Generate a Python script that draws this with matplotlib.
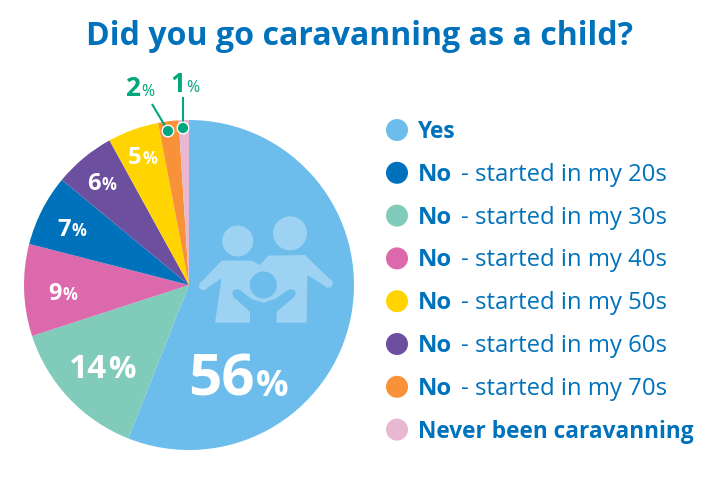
import matplotlib
matplotlib.use("Agg")
import matplotlib.pyplot as plt
from matplotlib.patches import Circle, Polygon

title = "Did you go caravanning as a child?"
slice_labels = ["Yes", "No - started in my 30s", "No - started in my 40s", "No - started in my 20s",
                "No - started in my 60s", "No - started in my 50s", "No - started in my 70s",
                "Never been caravanning"]
slice_values = [56, 14, 9, 7, 6, 5, 2, 1]
slice_colors = ["#6cbdec", "#80cbb9", "#dc69ac", "#0072bc", "#6d4fa0", "#ffd400", "#f79239", "#e8b8d2"]
legend_order = [0, 3, 1, 2, 5, 4, 6, 7]

BLUE = "#0072bc"
GREEN = "#00a67e"
LIGHT = "#9dd2f3"
FONT = "Open Sans"

fig = plt.figure(figsize=(7.2, 4.8), dpi=100, facecolor="white")

# pie: centre (189, 285), radius 165 px
axp = fig.add_axes([(189 - 165) / 720, 1 - (285 + 165) / 480, 330 / 720, 330 / 480])
axp.pie(slice_values, colors=slice_colors, startangle=90, counterclock=False, radius=1,
        wedgeprops=dict(linewidth=0))
axp.set_xlim(-1, 1)
axp.set_ylim(-1, 1)
axp.set_axis_off()

# overlay in pixel coordinates
ax = fig.add_axes([0, 0, 1, 1], zorder=5)
ax.set_xlim(0, 720)
ax.set_ylim(480, 0)
ax.set_axis_off()
ax.patch.set_alpha(0)
rend = fig.canvas.get_renderer()


def runs(x, y, parts):
    """Lay out (text, size, weight, colour) runs on one baseline."""
    cur = x
    for s, size, weight, col in parts:
        t = ax.text(cur, y, s, fontsize=size, fontweight=weight, color=col, family=FONT,
                    va="baseline", ha="left", zorder=10)
        cur += t.get_window_extent(rend).width + 1


# title
ax.text(360, 45, title, fontsize=23.1, fontweight="bold", color=BLUE, family=FONT,
        ha="center", va="baseline")


def z(px, py):
    return 180 + px / 3, 200 + py / 3


# family icon
ax.add_patch(Circle(z(173, 123), 15.5, color=LIGHT, lw=0, zorder=3))
ax.add_patch(Circle(z(330, 100), 17, color=LIGHT, lw=0, zorder=3))
body = [(105, 368), (125, 235), (78, 266), (62, 248), (125, 182), (215, 182), (240, 195),
        (265, 167), (375, 165), (452, 240), (438, 260), (382, 225), (380, 368)]
ax.add_patch(Polygon([z(*p) for p in body], closed=True, color=LIGHT, lw=0, zorder=3))
for c in ((70, 257), (445, 250)):
    ax.add_patch(Circle(z(*c), 4.5, color=LIGHT, lw=0, zorder=3))
child = [(162, 292), (210, 335), (210, 372), (290, 372), (290, 335), (342, 292), (325, 270),
         (285, 297), (250, 308), (215, 297), (180, 270)]
ax.add_patch(Polygon([z(*p) for p in child], closed=True, color=slice_colors[0], lw=0, zorder=4))
for c in ((171, 281), (333, 281)):
    ax.add_patch(Circle(z(*c), 4.6, color=slice_colors[0], lw=0, zorder=4))
ax.add_patch(Circle(z(250, 255), 13.5, color=slice_colors[0], lw=0, zorder=4))

# percent labels inside the pie
inside = {0: (188, 396, 42, 26), 1: (69, 378, 24, 22), 2: (48, 300, 17, 12),
          3: (57, 236, 17, 12), 4: (87, 190, 17, 12), 5: (128, 164, 17, 12)}
for i, (x0, by, big, small) in inside.items():
    runs(x0, by, [(str(slice_values[i]), big, "bold", "white"), ("%", small, "bold", "white")])

# small callouts
for i, (tx, ty, lx0, ly0, dx, dy) in {6: (125, 96, 152, 104, 168, 131), 7: (170, 92, 183, 97, 183, 128)}.items():
    runs(tx, ty, [(str(slice_values[i]), 19, "bold", GREEN), ("%", 11.5, "normal", GREEN)])
    ax.plot([lx0, dx], [ly0, dy], color=GREEN, lw=1.5, zorder=8, solid_capstyle="butt")
    ax.add_patch(Circle((dx, dy), 5.8, facecolor=GREEN, edgecolor="white", lw=1, zorder=9))

# legend
for row, i in enumerate(legend_order):
    y = 130 + row * 42.8
    ax.add_patch(Circle((397, y), 11, color=slice_colors[i], lw=0, zorder=6))
    label = slice_labels[i]
    if label.startswith("No - "):
        runs(418, y + 8, [("No", 17.2, "bold", BLUE)])
        runs(461, y + 8, [("- started in my " + label[-3:], 17.2, "normal", BLUE)])
    else:
        runs(418, y + 8, [(label, 16.3, "bold", BLUE)])

fig.savefig("out.png", dpi=100, facecolor="white")
